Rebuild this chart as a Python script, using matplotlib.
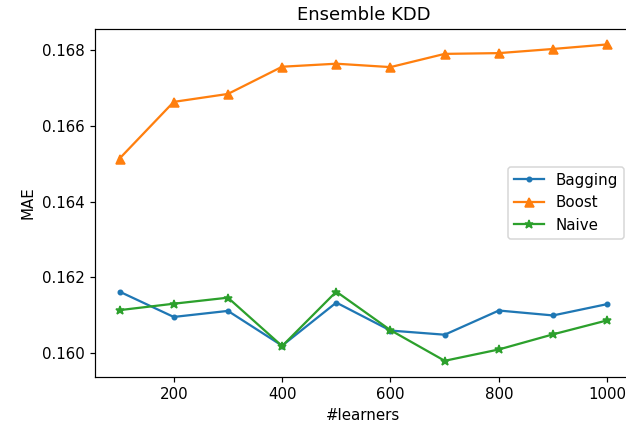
import numpy as np
import matplotlib
matplotlib.use('Agg')
import matplotlib.pyplot as plt

DPI = 108

learners = [100, 200, 300, 400, 500, 600, 700, 800, 900, 1000]

bagging = [0.16162, 0.16095, 0.16111, 0.16019, 0.16133, 0.16059, 0.16048, 0.16112, 0.16099, 0.16129]
boost   = [0.16514, 0.16664, 0.16685, 0.16757, 0.16765, 0.16756, 0.16791, 0.16793, 0.16804, 0.16816]
naive   = [0.16113, 0.16130, 0.16146, 0.16018, 0.16162, 0.16060, 0.15979, 0.16009, 0.16049, 0.16086]

fig = plt.figure(figsize = (626 / DPI, 427 / DPI), dpi = DPI)
ax = fig.add_axes([0.152, 0.118, 0.857, 0.815])

ax.plot(learners, bagging, '.-', label = 'Bagging')
ax.plot(learners, boost, '^-', label = 'Boost')
ax.plot(learners, naive, '*-', label = 'Naive')

ax.set_title('Ensemble KDD')
ax.set_xlabel('#learners')
ax.set_ylabel('MAE')
ax.set_xticks([200, 400, 600, 800, 1000])
ax.set_yticks([0.160, 0.162, 0.164, 0.166, 0.168])
ax.legend(loc = 'center right')

fig.savefig('out.png', dpi = DPI)
